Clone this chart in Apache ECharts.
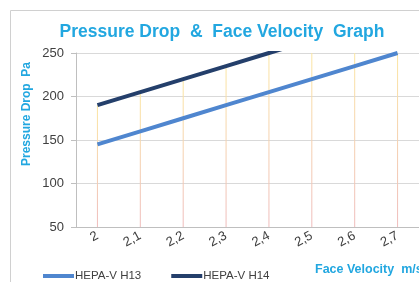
<!DOCTYPE html>
<html><head><meta charset="utf-8">
<script src="https://cdn.jsdelivr.net/npm/echarts@6/dist/echarts.min.js"></script>
<style>html,body{margin:0;padding:0;background:#fff}#c{width:419px;height:282px}</style>
</head><body><div id="c"></div>
<script>
const categories = ['2','2,1','2,2','2,3','2,4','2,5','2,6','2,7'];
const h13 = [145,160,175,190,205,220,235,250];
const h14 = [190,205,220,235,250,265,280,295];
const yTicks = {min:50, max:250, interval:50};
const titleText = 'Pressure Drop  &  Face Velocity  Graph';
const yName = 'Pressure Drop  Pa';
const xName = 'Face Velocity  m/s';
const seriesNames = ['HEPA-V H13','HEPA-V H14'];

const cyan = '#22a7e0';
const chart = echarts.init(document.getElementById('c'));
chart.setOption({
  animation:false,
  backgroundColor:'#fff',
  title:{text:titleText,left:222,top:23,textAlign:'center',padding:0,
    textStyle:{fontFamily:'Liberation Sans',fontWeight:'bold',fontSize:17.5,color:cyan}},
  legend:{data:seriesNames,left:43,top:270,padding:0,itemWidth:31,itemHeight:4,itemGap:30,icon:'rect',
    textStyle:{fontFamily:'Liberation Sans',fontSize:11.5,color:'#404040',padding:[0,0,0,-4]}},
  grid:{left:76,right:0,top:53,bottom:55,containLabel:false},
  xAxis:{type:'category',data:categories,boundaryGap:true,
    axisLine:{lineStyle:{color:'#bfbfbf'}},axisTick:{show:false},
    axisLabel:{rotate:28,margin:8,fontFamily:'Liberation Sans',fontSize:13,color:'#404040'},
    splitLine:{show:false}},
  yAxis:{type:'value',min:yTicks.min,max:yTicks.max,interval:yTicks.interval,
    axisLine:{show:true,lineStyle:{color:'#bfbfbf'}},
    axisTick:{show:true,length:5,lineStyle:{color:'#bfbfbf'}},
    axisLabel:{margin:12,fontFamily:'Liberation Sans',fontSize:13,color:'#404040'},
    splitLine:{lineStyle:{color:'#d9d9d9'}}},
  graphic:[
    {type:'rect',shape:{x:10.5,y:10.5,width:430,height:300},style:{fill:null,stroke:'#d0d0d0',lineWidth:1},z:-10},
    {type:'text',x:27,y:114,rotation:Math.PI/2,style:{text:yName,fill:cyan,font:'bold 12px "Liberation Sans"',textAlign:'center',textVerticalAlign:'middle'}},
    {type:'text',x:315,y:270,style:{text:xName,fill:cyan,font:'bold 12.5px "Liberation Sans"',textVerticalAlign:'middle'}}
  ],
  series:[
    {name:'drop',type:'bar',data:h14,barWidth:1,barGap:'-100%',silent:true,z:1,
      itemStyle:{color:new echarts.graphic.LinearGradient(0,0,0,1,[{offset:0,color:'#fbe6a2'},{offset:1,color:'#efbcbc'}])}},
    {name:seriesNames[0],type:'line',data:h13,symbol:'none',z:3,lineStyle:{width:4,color:'#4f86cf'},itemStyle:{color:'#4f86cf'}},
    {name:seriesNames[1],type:'line',data:h14,symbol:'none',z:3,clip:true,lineStyle:{width:4,color:'#243f6b'},itemStyle:{color:'#243f6b'}}
  ]
});
</script></body></html>
